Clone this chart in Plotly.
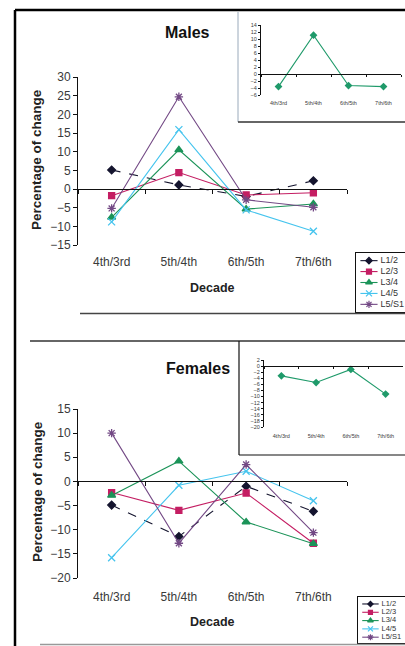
import plotly.graph_objects as go

# ---------------- data ----------------
CATEGORIES = ["4th/3rd", "5th/4th", "6th/5th", "7th/6th"]
SERIES_NAMES = ["L1/2", "L2/3", "L3/4", "L4/5", "L5/S1"]

MALES_L12 = [5.1, 1.1, -2.0, 2.2]
MALES_L23 = [-1.8, 4.4, -1.6, -1.0]
MALES_L34 = [-7.6, 10.5, -5.4, -4.0]
MALES_L45 = [-8.8, 15.9, -5.6, -11.3]
MALES_L5S1 = [-5.2, 24.7, -2.9, -4.9]
MALES_INSET = [-3.6, 11.1, -3.3, -3.6]

FEMALES_L12 = [-4.9, -11.4, -1.0, -6.2]
FEMALES_L23 = [-2.3, -6.0, -2.4, -12.8]
FEMALES_L34 = [-2.9, 4.2, -8.4, -12.9]
FEMALES_L45 = [-15.8, -0.8, 2.1, -4.0]
FEMALES_L5S1 = [10.0, -12.8, 3.5, -10.6]
FEMALES_INSET = [-3.2, -5.4, -1.1, -9.2]

MALES = [MALES_L12, MALES_L23, MALES_L34, MALES_L45, MALES_L5S1]
FEMALES = [FEMALES_L12, FEMALES_L23, FEMALES_L34, FEMALES_L45, FEMALES_L5S1]

MALES_RANGE = [-15, 30]
FEMALES_RANGE = [-20, 15]
MALES_INSET_RANGE = [-6, 14]
FEMALES_INSET_RANGE = [-20, 2]

# ---------------- styles ----------------
COLORS = ["#14142e", "#c41e63", "#1b9358", "#45c4ee", "#734985"]
SYMBOLS = ["diamond", "square", "triangle-up", "x-thin-open", "asterisk-open"]
SIZES = [6, 6, 7, 7, 7]
DASHES = ["dash", "solid", "solid", "solid", "solid"]
INSET_COLOR = "#1f9a6a"
FONT = "Liberation Sans, Arial, sans-serif"
TICK_COLOR = "#3a3a3a"

W, H = 405, 646


def fx(p):
    return p / W


def fy(p):
    return 1 - p / H


def zero_pos(dom, rng):
    return dom[0] + (0 - rng[0]) / (rng[1] - rng[0]) * (dom[1] - dom[0])


# domains in pixels (left, right) / (top, bottom)
M_MAIN = dict(x=[fx(78), fx(347)], y=[fy(245), fy(77)])
M_INSET = dict(x=[fx(261), fx(401)], y=[fy(95), fy(25)])
M_LEG = dict(x=[fx(356), fx(405)], y=[fy(312), fy(253)])
F_MAIN = dict(x=[fx(78), fx(347)], y=[fy(578), fy(409)])
F_INSET = dict(x=[fx(264), fx(403)], y=[fy(427), fy(360)])
F_LEG = dict(x=[fx(358), fx(405)], y=[fy(643), fy(597)])

LEG_LINE_X = [0.09, 0.44]
LEG_MARK_X = 0.265
LEG_TEXT_X = 0.50

fig = go.Figure()


def add_main(series, xa, ya):
    for i, vals in enumerate(series):
        fig.add_trace(go.Scatter(
            x=CATEGORIES, y=vals, name=SERIES_NAMES[i], mode="lines+markers",
            line=dict(color=COLORS[i], width=1.1, dash=DASHES[i]),
            marker=dict(symbol=SYMBOLS[i], size=SIZES[i], color=COLORS[i],
                        line=dict(color=COLORS[i], width=1.3)),
            xaxis=xa, yaxis=ya, showlegend=False))


def add_inset(vals, xa, ya):
    fig.add_trace(go.Scatter(
        x=CATEGORIES, y=vals, mode="lines+markers",
        line=dict(color=INSET_COLOR, width=1.1),
        marker=dict(symbol="diamond", size=6, color=INSET_COLOR),
        xaxis=xa, yaxis=ya, showlegend=False))


def add_legend(xa, ya, fsize, msize_delta):
    for i in range(len(SERIES_NAMES)):
        fig.add_trace(go.Scatter(
            x=LEG_LINE_X, y=[i, i], mode="lines",
            line=dict(color=COLORS[i], width=1.1),
            xaxis=xa, yaxis=ya, showlegend=False, hoverinfo="skip"))
        fig.add_trace(go.Scatter(
            x=[LEG_MARK_X], y=[i], mode="markers",
            marker=dict(symbol=SYMBOLS[i], size=SIZES[i] - msize_delta, color=COLORS[i],
                        line=dict(color=COLORS[i], width=1.2)),
            xaxis=xa, yaxis=ya, showlegend=False, hoverinfo="skip"))
    fig.add_trace(go.Scatter(
        x=[LEG_TEXT_X] * len(SERIES_NAMES), y=list(range(len(SERIES_NAMES))),
        text=SERIES_NAMES, mode="text", textposition="middle right",
        textfont=dict(size=fsize, color="#333", family=FONT),
        xaxis=xa, yaxis=ya, showlegend=False, hoverinfo="skip"))


add_main(MALES, "x", "y")
add_inset(MALES_INSET, "x2", "y2")
add_legend("x3", "y3", 9, 1)
add_main(FEMALES, "x4", "y4")
add_inset(FEMALES_INSET, "x5", "y5")
add_legend("x6", "y6", 7.5, 2)


def cat_axis(dom, ydom, rng, standoff, size, ticklen):
    return dict(type="category", categoryorder="array", categoryarray=CATEGORIES,
                range=[-0.5, 3.5], domain=dom, anchor="free",
                position=zero_pos(ydom, rng), showline=True, linecolor="#111",
                linewidth=1, ticks="outside", ticklen=ticklen, tickcolor="#111",
                tickson="boundaries", ticklabelstandoff=standoff,
                tickfont=dict(size=size, color=TICK_COLOR, family=FONT),
                showgrid=False, zeroline=False, automargin=False, fixedrange=True)


def val_axis(dom, rng, dtick, size, ticklen, anchor_x):
    return dict(domain=dom, range=rng, dtick=dtick, anchor=anchor_x,
                showline=True, linecolor="#111", linewidth=1, ticks="outside",
                ticklen=ticklen, tickcolor="#111",
                tickfont=dict(size=size, color=TICK_COLOR, family=FONT),
                showgrid=False, zeroline=False, automargin=False, fixedrange=True)


def leg_axis(dom, rng, anchor):
    return dict(domain=dom, range=rng, anchor=anchor, showline=True, mirror=True,
                linecolor="#111", linewidth=1, showticklabels=False, ticks="",
                showgrid=False, zeroline=False, automargin=False, fixedrange=True)


shapes = []


def line(x0, y0, x1, y1, color="#111", width=1):
    shapes.append(dict(type="line", xref="paper", yref="paper",
                       x0=fx(x0), y0=fy(y0), x1=fx(x1), y1=fy(y1),
                       line=dict(color=color, width=width)))


# page borders and frames
line(15, 10, 15, 646, "#000", 2.5)
line(15, 10, 405, 10, "#000", 2.5)
line(80, 313.5, 405, 313.5, "#444", 1.3)
line(30, 341, 405, 341, "#333", 1.3)
line(40, 644.5, 405, 644.5, "#999", 1.3)
line(238, 12, 238, 122, "#9aaabb", 1)
line(238, 122, 405, 122, "#333", 1.3)
line(239, 341, 239, 455, "#111", 1.2)
line(239, 455, 405, 455, "#111", 1.2)

annotations = []


def text(s, x, y, size, bold=False, angle=0, color="#111"):
    annotations.append(dict(text=f"<b>{s}</b>" if bold else s, xref="paper",
                            yref="paper", x=fx(x), y=fy(y), showarrow=False,
                            xanchor="center", yanchor="middle", textangle=angle,
                            font=dict(size=size, color=color, family=FONT)))


text("Males", 187, 32, 16, True)
text("Females", 198, 368, 16, True)
text("Decade", 212, 288, 12.5, True, color="#222")
text("Decade", 212, 622, 12.5, True, color="#222")
text("Percentage of change", 37, 160, 13.5, True, -90, "#222")
text("Percentage of change", 37, 492, 13.5, True, -90, "#222")

fig.update_layout(
    width=W, height=H, margin=dict(l=0, r=0, t=0, b=0),
    template="none", paper_bgcolor="white", plot_bgcolor="rgba(0,0,0,0)",
    showlegend=False, font=dict(family=FONT),
    xaxis=cat_axis(M_MAIN["x"], M_MAIN["y"], MALES_RANGE, 62, 12, 4),
    yaxis=val_axis(M_MAIN["y"], MALES_RANGE, 5, 12, 4, "x"),
    xaxis2=cat_axis(M_INSET["x"], M_INSET["y"], MALES_INSET_RANGE, 23, 5.5, 2),
    yaxis2=val_axis(M_INSET["y"], MALES_INSET_RANGE, 2, 5.5, 2, "x2"),
    xaxis3=leg_axis(M_LEG["x"], [0, 1], "y3"),
    yaxis3=leg_axis(M_LEG["y"], [4.7, -0.7], "x3"),
    xaxis4=cat_axis(F_MAIN["x"], F_MAIN["y"], FEMALES_RANGE, 104, 12, 4),
    yaxis4=val_axis(F_MAIN["y"], FEMALES_RANGE, 5, 12, 4, "x4"),
    xaxis5=cat_axis(F_INSET["x"], F_INSET["y"], FEMALES_INSET_RANGE, 64, 5.5, 2),
    yaxis5=val_axis(F_INSET["y"], FEMALES_INSET_RANGE, 2, 5.5, 2, "x5"),
    xaxis6=leg_axis(F_LEG["x"], [0, 1], "y6"),
    yaxis6=leg_axis(F_LEG["y"], [4.7, -0.84], "x6"),
    shapes=shapes, annotations=annotations,
)

fig.write_html(
    "out.html",
    config={"displayModeBar": False},
    post_script="document.body.style.margin='0';document.body.style.overflow='hidden';",
)
